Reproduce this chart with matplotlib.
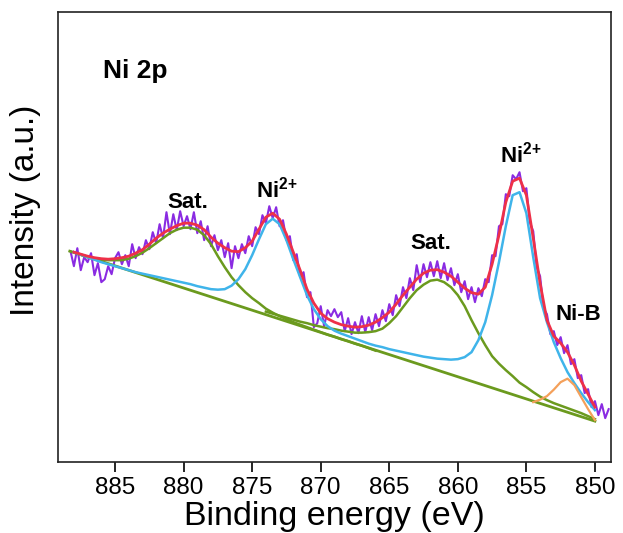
import numpy as np
import matplotlib
matplotlib.use('Agg')
import matplotlib.pyplot as plt

plt.rcParams['font.family'] = ['Liberation Sans', 'DejaVu Sans']
plt.rcParams['mathtext.fontset'] = 'custom'
plt.rcParams['mathtext.rm'] = 'Liberation Sans'
plt.rcParams['mathtext.bf'] = 'Liberation Sans:bold'

# energy grid of the fitted curves (eV), 888 -> 850 in 0.5 eV steps
energy = np.arange(888.0, 849.9, -0.5)

# envelope of the fit
fit_counts = [210, 208, 206, 204.5, 203.5, 203, 203.5, 204.5, 206, 209,
              212.5, 218, 224, 229, 233, 236.5, 239, 239, 237, 232.5,
              225, 219, 214.5, 211, 210.5, 214.5, 221, 233, 245, 249,
              243, 228, 210, 192, 173, 159, 149, 143.5, 140, 137.5,
              136, 135, 135.5, 137, 140, 144.5, 150, 158, 167, 175,
              183, 189, 192, 192.5, 190, 186, 180, 174, 169.5, 168,
              175, 198, 227, 260, 281, 284, 267, 224, 179, 142,
              126, 119, 110, 97, 81, 68, 55]

# Ni2+ components (2p1/2 and 2p3/2)
ni2_counts = [210, 207.5, 205, 202.5, 200, 198, 196, 194, 192, 190,
              188.5, 187, 185.5, 184, 182.5, 181, 179.5, 178, 176, 174.5,
              173, 172.5, 173, 176.5, 183, 193, 207, 223, 238, 243.5,
              238, 222, 203, 185, 167, 153, 143, 136, 131.5, 128.5,
              126, 123.5, 121, 118.5, 116.5, 115, 113, 111.5, 110, 108.5,
              107, 105.5, 104.5, 103.5, 103, 102.5, 103, 105, 110, 122,
              140, 167, 200, 236, 267, 270, 249, 205, 164, 140,
              120, 104, 90, 79, 69, 60, 52]

# satellite of Ni 2p1/2
sat1_energy = np.arange(888.0, 865.9, -0.5)
sat1_counts = [210, 207.5, 205, 203.5, 202.5, 202, 202, 202, 203.5, 206,
               209.5, 214, 219, 224, 229, 232.5, 234.5, 234.5, 232.5, 227,
               218, 206, 195, 185, 177, 170, 164, 159, 153.5, 149.5,
               146, 143, 140, 137.5, 135, 132.5, 130, 127.5, 125.5, 123,
               121, 118.5, 116.5, 114, 111.5]

# satellite of Ni 2p3/2
sat2_energy = np.arange(874.0, 849.9, -0.5)
sat2_counts = [150.5, 148.5, 146.5, 144.5, 142.5, 140.5, 139, 137, 135.5,
               134, 133, 131.5, 130.5, 129.5, 129.5, 130, 131, 133.5, 139,
               146, 155, 164, 172, 177.5, 181.5, 182.5, 180, 175, 167,
               156, 142, 129, 117, 106, 98.5, 92, 86, 79.5, 75,
               70, 65.5, 62, 59, 56.5, 54, 51.5, 49, 46, 43]

# Ni-B component
nib_energy = np.arange(854.5, 849.9, -0.5)
nib_counts = [60, 62.5, 66, 72.5, 80, 83.5, 77, 65, 53, 42]

# linear background
bg_energy = [888.3, 850.0]
bg_counts = [211, 41]

# measured spectrum, 888.25 -> 849.0 in 0.25 eV steps
raw_energy = np.arange(888.25, 848.9, -0.25)
raw_counts = [211, 196, 214, 192, 205, 200, 209, 187, 199, 180,
              183, 196, 188, 204, 210, 198, 207, 196, 218, 204,
              215, 208, 222, 213, 230, 219, 238, 224, 250, 228,
              248, 232, 251, 236, 246, 233, 250, 229, 241, 222,
              236, 216, 227, 212, 222, 205, 219, 194, 216, 204,
              218, 209, 226, 216, 235, 228, 247, 239, 256, 244,
              255, 236, 242, 222, 226, 202, 208, 185, 190, 165,
              170, 135, 139, 156, 136, 152, 146, 153, 145, 150,
              131, 144, 128, 140, 129, 146, 130, 145, 132, 148,
              136, 152, 141, 158, 147, 167, 156, 175, 164, 184,
              172, 197, 180, 198, 185, 200, 186, 201, 184, 199,
              182, 194, 177, 188, 170, 181, 163, 175, 160, 174,
              166, 183, 180, 207, 206, 236, 238, 268, 266, 287,
              283, 290, 271, 274, 240, 231, 195, 186, 154, 148,
              128, 131, 117, 125, 109, 117, 98, 103, 84, 87,
              69, 73, 55, 61, 47, 58, 44, 53]

fig = plt.figure(figsize=(6.23, 5.33), dpi=100)
ax = fig.add_axes([0.0931, 0.133, 0.8876, 0.844])

ax.plot(raw_energy, raw_counts, color='#8a2be2', lw=1.5, zorder=1)
ax.plot(bg_energy, bg_counts, color='#6b9a1e', lw=2, zorder=2)
ax.plot(sat1_energy, sat1_counts, color='#6b9a1e', lw=1.8, zorder=3)
ax.plot(sat2_energy, sat2_counts, color='#6b9a1e', lw=1.8, zorder=3)
ax.plot(energy, ni2_counts, color='#3fb4ea', lw=1.8, zorder=4)
ax.plot(nib_energy, nib_counts, color='#f4a05a', lw=1.6, zorder=4)
ax.plot(energy, fit_counts, color='#ee3048', lw=2, zorder=5)

ax.set_xlim(889.16, 848.83)
ax.set_ylim(0, 450)
ax.set_xticks([885, 880, 875, 870, 865, 860, 855, 850])
ax.set_yticks([])
ax.tick_params(axis='x', direction='out', length=7, width=1.2, labelsize=17.5, pad=4)
for s in ax.spines.values():
    s.set_linewidth(1.2)
    s.set_color('#222222')

ax.set_xlabel('Binding energy (eV)', fontsize=24.5, labelpad=1)
ax.set_ylabel('Intensity (a.u.)', fontsize=24)
ax.yaxis.set_label_coords(-0.03, 0.56)

sup = r'Ni$^{\mathbf{2}{\mathbf{+}}}$'
ax.text(0.081, 0.853, 'Ni 2p', transform=ax.transAxes, fontsize=19, fontweight='bold', va='baseline')
ax.text(879.7, 260, 'Sat.', fontsize=16, fontweight='bold', ha='center', va='center')
ax.text(873.2, 273, sup, fontsize=16, fontweight='bold', ha='center', va='center')
ax.text(862.0, 219, 'Sat.', fontsize=16, fontweight='bold', ha='center', va='center')
ax.text(855.4, 308, sup, fontsize=16, fontweight='bold', ha='center', va='center')
ax.text(851.2, 148, 'Ni-B', fontsize=16, fontweight='bold', ha='center', va='center')

fig.savefig('out.png', dpi=100)
